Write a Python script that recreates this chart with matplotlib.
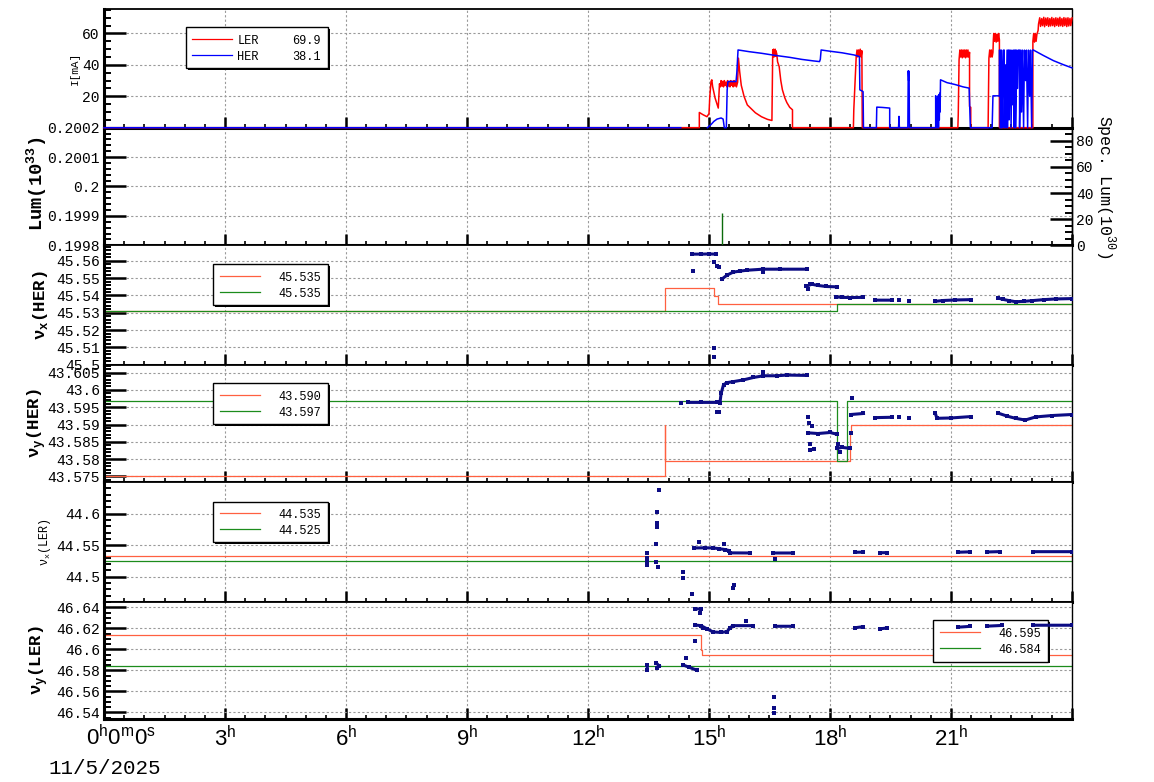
import numpy as np
import matplotlib
matplotlib.use('Agg')
import matplotlib.pyplot as plt
from matplotlib.patches import Rectangle
from matplotlib.lines import Line2D
from matplotlib.ticker import MultipleLocator, FixedLocator, FuncFormatter

plt.rcParams['font.family'] = ['Liberation Mono', 'DejaVu Sans Mono']
plt.rcParams['mathtext.fontset'] = 'custom'
plt.rcParams['mathtext.rm'] = 'Liberation Mono'

N = (np.nan, np.nan)

# ---- beam currents [mA], (hour, value)
ler = [(0, 0), (14.76, 0), (14.76, 9.7), (14.85, 8.3), (14.95, 7.0), (15.0, 9.0),
       (15.02, 19.9), (15.05, 29.4), (15.07, 30.5), (15.09, 26.2), (15.15, 19.0), (15.23, 12.5),
       (15.26, 28.0), (15.28, 26.0), (15.30, 30.0), (15.32, 26.5), (15.34, 29.5), (15.36, 26.0),
       (15.38, 30.0), (15.40, 27.0), (15.42, 29.0), (15.44, 26.0), (15.46, 30.0), (15.48, 26.5),
       (15.50, 29.5), (15.52, 26.0), (15.54, 30.0), (15.56, 27.0), (15.58, 29.5), (15.60, 26.0),
       (15.62, 30.0), (15.64, 26.5), (15.66, 29.5), (15.68, 26.0), (15.71, 29.0),
       (15.73, 44.3), (15.76, 35.8), (15.8, 27.0), (15.87, 19.9), (15.95, 14.5), (16.03, 12.5),
       (16.15, 9.5), (16.3, 7.0), (16.45, 5.3), (16.56, 4.6),
       (16.58, 49.5), (16.59, 46.0), (16.60, 50.0), (16.61, 45.0), (16.62, 49.5), (16.63, 46.0),
       (16.64, 50.0), (16.65, 45.5), (16.66, 49.0), (16.68, 47.0), (16.70, 42.0), (16.74, 38.9),
       (16.78, 30.0), (16.82, 24.1), (16.88, 19.0), (16.93, 16.0), (17.0, 13.0), (17.07, 11.4), (17.07, 0),
       (18.58, 0), (18.59, 11.4), (18.62, 28.4), (18.65, 45.3), (18.67, 49.5), (18.69, 45.0),
       (18.71, 49.5), (18.73, 45.5), (18.75, 50.0), (18.77, 45.0), (18.79, 49.0), (18.80, 0),
       (21.17, 0), (21.18, 8.3), (21.2, 43.2), (21.22, 49.5), (21.24, 45.0), (21.26, 49.5),
       (21.28, 44.5), (21.30, 49.5), (21.32, 45.0), (21.34, 49.5), (21.36, 44.5), (21.38, 49.5),
       (21.40, 45.0), (21.42, 49.5), (21.44, 45.0), (21.46, 48.0), (21.46, 13.5), (21.49, 13.0), (21.49, 0),
       (21.92, 0), (21.93, 24.1), (21.94, 44.3), (21.96, 49.5), (21.98, 45.0), (22.0, 49.5),
       (22.02, 45.0), (22.04, 48.0), (22.05, 56.0), (22.06, 60.0), (22.08, 55.0), (22.10, 60.0),
       (22.12, 54.5), (22.14, 59.5), (22.16, 55.0), (22.18, 60.0), (22.2, 56.0), (22.2, 0),
       (23.03, 0), (23.03, 55.0), (23.05, 60.0), (23.07, 54.5), (23.09, 60.0), (23.11, 55.0),
       (23.13, 59.5), (23.16, 62.0), (23.17, 66.0),
       (23.2, 70.0), (23.22, 64.5), (23.25, 69.5), (23.27, 65.0), (23.3, 70.3), (23.32, 64.3),
       (23.35, 69.8), (23.37, 65.2), (23.4, 70.0), (23.42, 64.5), (23.45, 69.5), (23.47, 64.8),
       (23.5, 70.2), (23.52, 65.0), (23.55, 69.6), (23.57, 64.4), (23.6, 70.0), (23.62, 65.1),
       (23.65, 69.7), (23.67, 64.6), (23.7, 70.3), (23.72, 64.9), (23.75, 69.5), (23.77, 64.5),
       (23.8, 70.1), (23.82, 65.0), (23.85, 69.8), (23.87, 64.4), (23.9, 70.0), (23.92, 64.8),
       (23.95, 69.6), (23.97, 65.0), (24.0, 69.9)]

her = [(0, 0), (14.3, 0), N, (14.96, 0), (15.05, 2.0), (15.12, 4.0), (15.2, 5.5), (15.3, 6.2),
       (15.35, 5.5), (15.38, 0), (15.43, 0), (15.45, 24.0), (15.47, 29.4), (15.67, 29.4), (15.69, 35.0),
       (15.72, 49.5), (15.8, 49.2), (16.0, 48.4), (16.3, 47.4), (16.6, 46.2), (17.0, 44.8), (17.3, 43.5),
       (17.6, 42.5), (17.74, 42.1), (17.76, 43.5), (17.78, 49.5), (18.0, 48.7), (18.3, 47.7), (18.6, 46.3),
       (18.73, 45.3), (18.74, 24.1), (18.82, 23.0), (18.83, 0), (19.15, 0), (19.16, 13.1), (19.3, 12.9),
       (19.48, 12.5), (19.48, 0), (19.70, 0), (19.71, 7.2), (19.72, 0), (19.93, 0), (19.94, 36.2),
       (19.95, 30.0), (19.96, 36.0), (19.97, 0), (20.62, 0), (20.62, 20.3), (20.64, 0), (20.65, 18.0),
       (20.67, 0), (20.68, 20.3), (20.69, 0), (20.70, 21.0), (20.71, 5.0), (20.72, 22.0), (20.73, 10.0),
       (20.74, 30.5), (20.9, 28.7), (21.1, 27.5), (21.3, 26.0), (21.45, 25.2), (21.48, 0),
       (22.02, 0), (22.04, 20.3), (22.2, 20.3), (22.2, 49.4), (22.22, 49.4), (22.22, 0), (22.25, 0),
       (22.25, 49.4), (22.27, 0), (22.3, 49.4), (22.32, 49.4), (22.32, 0), (22.35, 40.0), (22.36, 0),
       (22.39, 49.4), (22.4, 0), (22.42, 49.4), (22.44, 49.4), (22.44, 5.0), (22.47, 49.4), (22.49, 0),
       (22.51, 49.4), (22.53, 14.6), (22.55, 49.4), (22.56, 0), (22.58, 49.4), (22.6, 49.4), (22.6, 0),
       (22.63, 49.4), (22.65, 25.0), (22.67, 49.4), (22.7, 49.4), (22.7, 0), (22.73, 49.4), (22.75, 10.0),
       (22.77, 49.4), (22.8, 0), (22.82, 49.4), (22.85, 30.0), (22.87, 49.4), (22.9, 0), (22.92, 49.4),
       (22.95, 20.0), (22.97, 49.4), (23.0, 0), (23.02, 49.4), (23.04, 49.5), (23.29, 46.0),
       (23.54, 42.7), (23.79, 40.1), (24.0, 38.1)]

ring_names = ['LER', 'HER']
ring_now = ['69.9', '38.1']

# ---- specific luminosity spikes [10^30]
spec_t = [15.33, 16.75]
spec_v = [24.5, 1.0]

# ---- tune set values (orange) and reference (green)
nxh_org = [(0, 45.5308), (13.9, 45.5308), (13.9, 45.5444), (15.12, 45.5444), (15.12, 45.5398),
           (15.22, 45.5398), (15.22, 45.535), (24, 45.535)]
nxh_grn = [(0, 45.5308), (18.17, 45.5308), (18.17, 45.535), (24, 45.535)]
nyh_org = [(0, 43.575), (13.9, 43.575), (13.9, 43.59), (13.9, 43.5796), (18.5, 43.5796),
           (18.5, 43.5877), (18.53, 43.5877), (18.53, 43.59), (24, 43.59)]
nyh_grn = [(0, 43.5969), (18.17, 43.5969), (18.17, 43.5796), (18.41, 43.5796), (18.41, 43.5969),
           (24, 43.5969)]
nxl_org = [(0, 44.5335), (24, 44.5335)]
nxl_grn = [(0, 44.5248), (24, 44.5248)]
nyl_org = [(0, 46.6133), (14.79, 46.6133), (14.79, 46.599), (14.82, 46.599), (14.82, 46.5946),
           (24, 46.5946)]
nyl_grn = [(0, 46.5836), (24, 46.5836)]

leg_nxh = ['45.535', '45.535']
leg_nyh = ['43.590', '43.597']
leg_nxl = ['44.535', '44.525']
leg_nyl = ['46.595', '46.584']

# ---- measured tunes (navy points, N separates tracks)
nxh = [(14.58, 45.5639), (14.8, 45.5639), (15.0, 45.5640), (15.17, 45.5639), N,
       (14.6, 45.5541), N, (15.12, 45.5593), N, (15.19, 45.5570), N, (15.24, 45.5564), N,
       (15.12, 45.5095), N, (15.12, 45.5043), N,
       (15.32, 45.5495), (15.45, 45.5518), (15.6, 45.5535), (15.77, 45.5541), (15.95, 45.5546),
       (16.34, 45.5552), (16.76, 45.5552), (17.43, 45.5552), N, (16.34, 45.5535), N,
       (17.41, 45.5454), (17.55, 45.5465), (17.7, 45.5458), (17.9, 45.5452), (18.17, 45.5450), N,
       (17.45, 45.5440), N, (17.5, 45.5468), N,
       (18.15, 45.5392), (18.3, 45.5389), (18.5, 45.5388), (18.82, 45.5389), N,
       (19.12, 45.5373), (19.54, 45.5373), N, (19.7, 45.5373), N, (19.95, 45.5370), N,
       (20.6, 45.5366), (20.8, 45.5371), (21.1, 45.5374), (21.5, 45.5376), N,
       (22.17, 45.5385), (22.3, 45.5377), (22.45, 45.5370), (22.6, 45.5364), (22.8, 45.5366),
       (23.0, 45.5370), (23.3, 45.5376), (23.6, 45.5380), (24.0, 45.5382)]

nyh = [(14.31, 43.5961), N, (14.49, 43.5964), (14.8, 43.5964), (15.19, 43.5964), N,
       (15.21, 43.5935), (15.25, 43.5935), N,
       (15.27, 43.5961), (15.30, 43.5990), (15.36, 43.6015), (15.44, 43.6021), (15.6, 43.6024),
       (15.85, 43.6029), (16.1, 43.6036), (16.35, 43.6041), (16.68, 43.6041), (16.93, 43.6043),
       (17.42, 43.6042), N, (16.35, 43.6053), N,
       (17.46, 43.5876), (17.7, 43.5874), (18.0, 43.5877), (18.17, 43.5872), N,
       (17.46, 43.5923), N, (17.47, 43.5905), N, (17.5, 43.5826), N, (17.55, 43.5895), N,
       (17.6, 43.5830), N, (17.5, 43.5845), N,
       (18.18, 43.5831), (18.3, 43.5834), (18.5, 43.5831), N, (18.2, 43.5845), N, (18.25, 43.5820), N,
       (18.55, 43.5976), N, (18.52, 43.5876), N,
       (18.52, 43.5929), (18.83, 43.5932), N, (19.12, 43.5920), (19.53, 43.5921), N,
       (19.72, 43.5923), N, (19.95, 43.5919), N,
       (20.61, 43.5933), (20.65, 43.5918), (21.0, 43.5919), (21.49, 43.5923), N,
       (22.17, 43.5933), (22.4, 43.5924), (22.6, 43.5918), (22.84, 43.5913), (23.1, 43.5922),
       (23.5, 43.5926), (24.0, 43.5929)]

nxl = [(13.47, 44.5371), N, (13.47, 44.5302), N, (13.47, 44.5238), N, (13.47, 44.5186), N,
       (13.77, 44.6371), N, (13.72, 44.6022), N, (13.71, 44.5852), N, (13.70, 44.5784), N,
       (13.69, 44.5514), N, (13.69, 44.5229), N, (13.74, 44.5149), N, (14.36, 44.5070), N,
       (14.36, 44.4975), N, (14.59, 44.4721), N, (14.74, 44.5546), N,
       (14.63, 44.5456), (14.9, 44.5458), (15.1, 44.5456), (15.25, 44.5445), (15.4, 44.5430),
       (15.5, 44.5415), (15.53, 44.5378), (16.02, 44.5376), N,
       (15.38, 44.5514), N, (15.6, 44.4816), N, (15.63, 44.4863), N,
       (16.59, 44.5376), (17.08, 44.5376), N, (16.64, 44.5276), N,
       (18.62, 44.5387), (18.82, 44.5390), N, (19.24, 44.5380), (19.41, 44.5382), N,
       (21.17, 44.5388), (21.47, 44.5394), N, (21.89, 44.5392), (22.22, 44.5398), N,
       (23.03, 44.5397), (24.0, 44.5397)]

nyl = [(13.47, 46.5850), (13.47, 46.5800), N, (13.69, 46.5870), (13.77, 46.5840), N,
       (13.72, 46.5820), N, (14.36, 46.5850), (14.5, 46.5830), (14.7, 46.5800), N,
       (14.42, 46.5914), N, (14.66, 46.6076), N, (14.65, 46.6384), (14.8, 46.6384), N,
       (14.78, 46.6343), N,
       (14.65, 46.6231), (14.8, 46.6225), (14.95, 46.6195), (15.1, 46.6165), (15.3, 46.6160),
       (15.45, 46.6168), (15.52, 46.6205), (15.6, 46.6225), (16.09, 46.6225), N,
       (14.86, 46.6200), N, (15.92, 46.6267), N,
       (16.64, 46.6219), (17.08, 46.6219), N, (16.6, 46.5543), N, (16.6, 46.5438), N, (16.6, 46.5393), N,
       (18.62, 46.6205), (18.82, 46.6215), N, (19.24, 46.6195), (19.41, 46.6202), N,
       (21.17, 46.6210), (21.47, 46.6218), N, (21.89, 46.6220), (22.27, 46.6227), N,
       (23.04, 46.6229), (24.0, 46.6229)]

hour_ticks = [0, 3, 6, 9, 12, 15, 18, 21, 24]

W, H = 1154, 782
edges = [9.3, 127.7, 245.3, 364.7, 482.3, 601.7, 719.0]
L, R = 104, 1072
ORG = '#ff6040'
GRN = '#1c8c1c'
NAVY = '#0c0c84'


def xy(pairs):
    a = np.array(pairs, dtype=float)
    return a[:, 0], a[:, 1]


def fx(x):
    return x / W


def fy(y):
    return 1 - y / H


fig = plt.figure(figsize=(W / 100, H / 100), dpi=100)
axes = []
for i in range(6):
    top, bot = edges[i], edges[i + 1]
    ax = fig.add_axes([fx(L), fy(bot), (R - L) / W, (bot - top) / H])
    ax.set_xlim(0, 24)
    ax.xaxis.set_major_locator(FixedLocator(hour_ticks))
    ax.xaxis.set_minor_locator(MultipleLocator(0.5))
    ax.tick_params(axis='x', which='major', direction='in', length=8, width=1.8,
                   labelbottom=False, pad=5)
    ax.tick_params(axis='x', which='minor', direction='in', length=3, width=1.2)
    ax.tick_params(axis='y', which='major', direction='in', length=16, width=1.8,
                   labelsize=10.5, pad=3)
    ax.tick_params(axis='y', which='minor', direction='in', length=5, width=1.4)
    ax.yaxis.set_major_formatter(FuncFormatter(lambda v, p: f'{v:.6g}'))
    ax.grid(True, which='major', ls=(0, (2, 2)), color='#9a9a9a', lw=0.8)
    ax.spines['left'].set_linewidth(2.2)
    ax.spines['bottom'].set_linewidth(2.2)
    ax.spines['top'].set_linewidth(1.3)
    ax.spines['right'].set_linewidth(1.0)
    axes.append(ax)

ax1, ax2, ax3, ax4, ax5, ax6 = axes
# current panel drawn last so the zero level shows on the frame
ax1.set_zorder(2)

# panel 1: currents
t, v = xy(ler)
ax1.plot(t, v, color='#ff0000', lw=1.1, zorder=3, clip_on=False)
t, v = xy(her)
ax1.plot(t, v, color='#0000ff', lw=1.1, zorder=3, clip_on=False)
ax1.set_ylim(0, 75.4)
ax1.yaxis.set_major_locator(FixedLocator([20, 40, 60]))
ax1.yaxis.set_minor_locator(MultipleLocator(5))

# panel 2: luminosity
ax2.set_ylim(0.1998, 0.2002)
ax2.yaxis.set_major_locator(FixedLocator([0.1998, 0.1999, 0.2, 0.2001, 0.2002]))
ax2.yaxis.set_minor_locator(MultipleLocator(0.00002))
tw = ax2.twinx()
tw.set_ylim(0, 90)
tw.yaxis.set_major_locator(FixedLocator([0, 20, 40, 60, 80]))
tw.yaxis.set_minor_locator(MultipleLocator(5))
tw.tick_params(axis='y', which='major', direction='in', length=16, width=1.8, labelsize=10.5, pad=3)
tw.tick_params(axis='y', which='minor', direction='in', length=5, width=1.4)
for s in ['left', 'top', 'bottom']:
    tw.spines[s].set_visible(False)
tw.spines['right'].set_linewidth(1.0)
tw.vlines(spec_t, 0, spec_v, color='#0b6b0b', lw=1.0)

# tune panels
tune_panels = [
    (ax3, nxh_org, nxh_grn, nxh, (45.5, 45.569), [45.5, 45.51, 45.52, 45.53, 45.54, 45.55, 45.56], 0.002),
    (ax4, nyh_org, nyh_grn, nyh, (43.5733, 43.6073), [43.575, 43.58, 43.585, 43.59, 43.595, 43.6, 43.605], 0.001),
    (ax5, nxl_org, nxl_grn, nxl, (44.4603, 44.6498), [44.5, 44.55, 44.6], 0.01),
    (ax6, nyl_org, nyl_grn, nyl, (46.5336, 46.6453), [46.54, 46.56, 46.58, 46.6, 46.62, 46.64], 0.005),
]
for ax, org, grn, meas, lim, ticks, minor in tune_panels:
    t, v = xy(org)
    ax.plot(t, v, color=ORG, lw=0.9, zorder=2)
    t, v = xy(grn)
    ax.plot(t, v, color=GRN, lw=0.9, zorder=2)
    t, v = xy(meas)
    ax.plot(t, v, color=NAVY, lw=2.2, marker='s', ms=2.3, mew=0, zorder=5)
    ax.set_ylim(*lim)
    ax.yaxis.set_major_locator(FixedLocator(ticks))
    ax.yaxis.set_minor_locator(MultipleLocator(minor))

# time axis labels on bottom panel
ax6.tick_params(axis='x', which='major', labelbottom=True)
ax6.set_xticklabels([''] + [r'$\mathregular{%d^h}$' % h for h in hour_ticks[1:-1]] + [''],
                    fontfamily='Liberation Sans', fontsize=16)
fig.text(fx(86), fy(725), r'$\mathregular{0^h0^m0^s}$', fontfamily='Liberation Sans',
         fontsize=16, ha='left', va='top')
fig.text(fx(48), fy(768), '11/5/2025', fontsize=15, ha='left', va='center')

# axis titles
fig.text(fx(75), fy(68.5), 'I[mA]', rotation=90, fontsize=8, ha='center', va='center')
fig.text(fx(37.5), fy(184), r'Lum(10$^\mathregular{33}$)', rotation=90, fontsize=13.5,
         fontweight='bold', ha='center', va='center')
fig.text(fx(1105), fy(186.5), r'Spec. Lum(10$^\mathregular{30}$)', rotation=270, fontsize=12,
         ha='center', va='center')
fig.text(fx(40), fy(305), r'ν$_\mathregular{x}$(HER)', rotation=90, fontsize=12.5,
         fontweight='bold', ha='center', va='center')
fig.text(fx(37), fy(423), r'ν$_\mathregular{y}$(HER)', rotation=90, fontsize=12.5,
         fontweight='bold', ha='center', va='center')
fig.text(fx(45), fy(542), r'ν$_\mathregular{x}$(LER)', rotation=90, fontsize=8.5,
         ha='center', va='center')
fig.text(fx(39), fy(660), r'ν$_\mathregular{y}$(LER)', rotation=90, fontsize=12.5,
         fontweight='bold', ha='center', va='center')


def legend_box(ax, box, line_x, rows_y, colors, values, val_right, names=None, name_x=None):
    x0, y0, x1, y1 = box
    tr = fig.transFigure
    ax.add_patch(Rectangle((fx(x0 + 2), fy(y1 + 1.6)), (x1 - x0) / W, (y1 - y0) / H,
                           transform=tr, facecolor='black', edgecolor='none', zorder=3, clip_on=False))
    ax.add_patch(Rectangle((fx(x0), fy(y1)), (x1 - x0) / W, (y1 - y0) / H, transform=tr,
                           facecolor='white', edgecolor='black', lw=1.0, zorder=3.1, clip_on=False))
    for k, yy in enumerate(rows_y):
        ax.add_line(Line2D([fx(line_x[0]), fx(line_x[1])], [fy(yy), fy(yy)], transform=tr,
                           color=colors[k], lw=0.9, zorder=3.2, clip_on=False))
        ax.text(fx(val_right), fy(yy + 4.6), values[k], transform=tr, fontsize=8.6,
                ha='right', va='baseline', zorder=3.3)
        if names:
            ax.text(fx(name_x), fy(yy + 4.6), names[k], transform=tr, fontsize=8.6,
                    ha='left', va='baseline', zorder=3.3)


legend_box(ax1, (185.7, 27.3, 327.7, 68.0), (192, 231.7), (39.3, 55.3), ['#ff0000', '#0000ff'],
           ring_now, 320.7, names=ring_names, name_x=237.3)
legend_box(ax3, (213.3, 264.3, 327.7, 305.0), (220, 260), (276.3, 292.3), [ORG, GRN], leg_nxh, 320.7)
legend_box(ax4, (213.3, 383.3, 327.7, 424.0), (220, 260), (395.3, 411.3), [ORG, GRN], leg_nyh, 320.7)
legend_box(ax5, (213.3, 501.7, 327.7, 542.3), (220, 260), (513.3, 529.3), [ORG, GRN], leg_nxl, 320.7)
legend_box(ax6, (933.3, 620.0, 1047.7, 661.7), (940, 980), (632.3, 648.3), [ORG, GRN], leg_nyl, 1040.7)

fig.savefig('out.png', dpi=100)
